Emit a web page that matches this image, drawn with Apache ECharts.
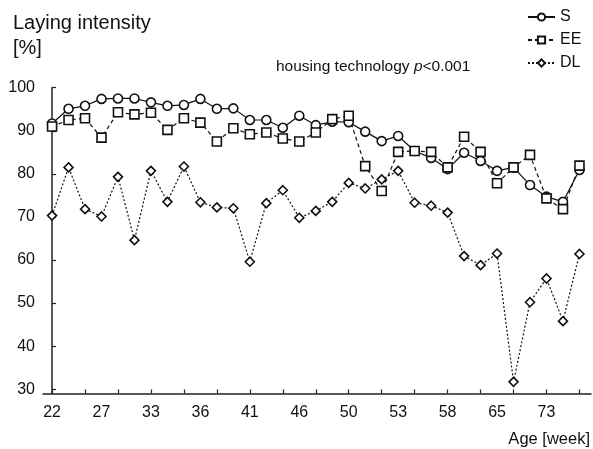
<!DOCTYPE html>
<html>
<head>
<meta charset="utf-8">
<script src="https://cdn.jsdelivr.net/npm/echarts@6/dist/echarts.min.js"></script>
<style>
  html, body { margin: 0; padding: 0; background: #fff; }
  #chart { width: 593px; height: 449px; }
</style>
</head>
<body>
<div id="chart"></div>
<script>
// Age labels shown under every third sample
var ageLabels = ['22', '27', '33', '36', '41', '46', '50', '53', '58', '65', '73'];

// Laying intensity (%) per sampling point, 33 points
var seriesS = [91.7, 95.1, 95.8, 97.4, 97.5, 97.5, 96.6, 95.8, 96.0, 97.4, 95.1, 95.2,
  92.5, 92.5, 90.7, 93.5, 91.3, 92.1, 92.0, 89.8, 87.6, 88.8, 85.3, 83.7,
  81.1, 84.9, 83.0, 80.7, 81.5, 77.4, 74.7, 73.5, 80.9];
var seriesEE = [91.0, 92.5, 92.9, 88.4, 94.3, 93.8, 94.2, 90.2, 92.9, 91.9, 87.5, 90.6,
  89.2, 89.6, 88.2, 87.5, 89.6, 92.7, 93.5, 81.8, 76.0, 85.1, 85.3, 85.1,
  81.5, 88.6, 85.1, 77.8, 81.5, 84.4, 74.3, 71.8, 81.9];
var seriesDL = [70.3, 81.5, 71.8, 70.1, 79.3, 64.6, 80.7, 73.5, 81.7, 73.4, 72.2, 72.0,
  59.6, 73.2, 76.2, 69.8, 71.4, 73.5, 77.9, 76.6, 78.7, 80.7, 73.3, 72.6,
  71.0, 60.9, 58.8, 61.5, 31.7, 50.2, 55.7, 45.8, 61.4];

// y-axis tick values
var yTicks = [30, 40, 50, 60, 70, 80, 90, 100];

function indexed(arr) {
  return arr.map(function (v, i) { return [i, v]; });
}
var tickIdx = [];
for (var t = 0; t < seriesS.length; t += 2) tickIdx.push(t);
var labelIdx = ageLabels.map(function (_, k) { return k * 3; });

var FONT = '"Liberation Sans", Arial, Helvetica, sans-serif';
var INK = '#111';

var chart = echarts.init(document.getElementById('chart'), null, { renderer: 'canvas' });

function lineSeries(name, data, symbol, size, lineType) {
  return {
    name: name,
    type: 'line',
    data: indexed(data),
    symbol: symbol,
    symbolSize: size,
    showAllSymbol: true,
    animation: false,
    lineStyle: { color: INK, width: 1.2, type: lineType },
    itemStyle: { color: '#fff', borderColor: INK, borderWidth: 1.6 },
    emphasis: { disabled: true }
  };
}

chart.setOption({
  backgroundColor: '#fff',
  animation: false,
  textStyle: { fontFamily: FONT },
  grid: { left: 43, right: 2, top: 87.7, bottom: 55.5, containLabel: false },
  legend: {
    orient: 'vertical',
    left: 522,
    top: 4,
    itemWidth: 27,
    itemHeight: 9,
    itemGap: 7,
    textStyle: { fontFamily: FONT, fontSize: 16, color: INK },
    data: ['S', 'EE', 'DL']
  },
  xAxis: {
    type: 'value',
    min: -0.55,
    max: 32.7,
    splitLine: { show: false },
    axisLine: { lineStyle: { color: '#222', width: 1.5 } },
    axisTick: {
      inside: true, length: 4,
      lineStyle: { color: '#222', width: 1.2 },
      customValues: tickIdx
    },
    axisLabel: {
      customValues: labelIdx,
      margin: 11,
      fontSize: 16,
      color: INK,
      fontFamily: FONT,
      formatter: function (v) { return ageLabels[Math.round(v / 3)]; }
    }
  },
  yAxis: {
    type: 'value',
    min: 29,
    max: 100,
    splitLine: { show: false },
    axisLine: { show: true, lineStyle: { color: '#222', width: 1.5 } },
    axisTick: {
      show: true, inside: true, length: 4,
      lineStyle: { color: '#222', width: 1.2 },
      customValues: yTicks
    },
    axisLabel: {
      customValues: yTicks,
      margin: 8,
      fontSize: 16,
      color: INK,
      fontFamily: FONT
    }
  },
  series: [
    lineSeries('S', seriesS, 'circle', 9, 'solid'),
    lineSeries('EE', seriesEE, 'rect', 9, [4, 3]),
    lineSeries('DL', seriesDL, 'diamond', 9, [2, 2])
  ],
  graphic: [
    {
      type: 'text', left: 13, top: 11,
      style: { text: 'Laying intensity\n[%]', font: '20px ' + FONT, fill: INK, lineHeight: 25 }
    },
    {
      type: 'text', left: 276, top: 59,
      style: {
        text: '{a|housing technology }{i|p}{a|<0.001}',
        rich: {
          a: { font: '15.5px ' + FONT, fill: INK },
          i: { font: 'italic 15.5px ' + FONT, fill: INK }
        }
      }
    },
    {
      type: 'text', right: 3, top: 431,
      style: { text: 'Age [week]', font: '16.5px ' + FONT, fill: INK }
    }
  ]
});
</script>
</body>
</html>
